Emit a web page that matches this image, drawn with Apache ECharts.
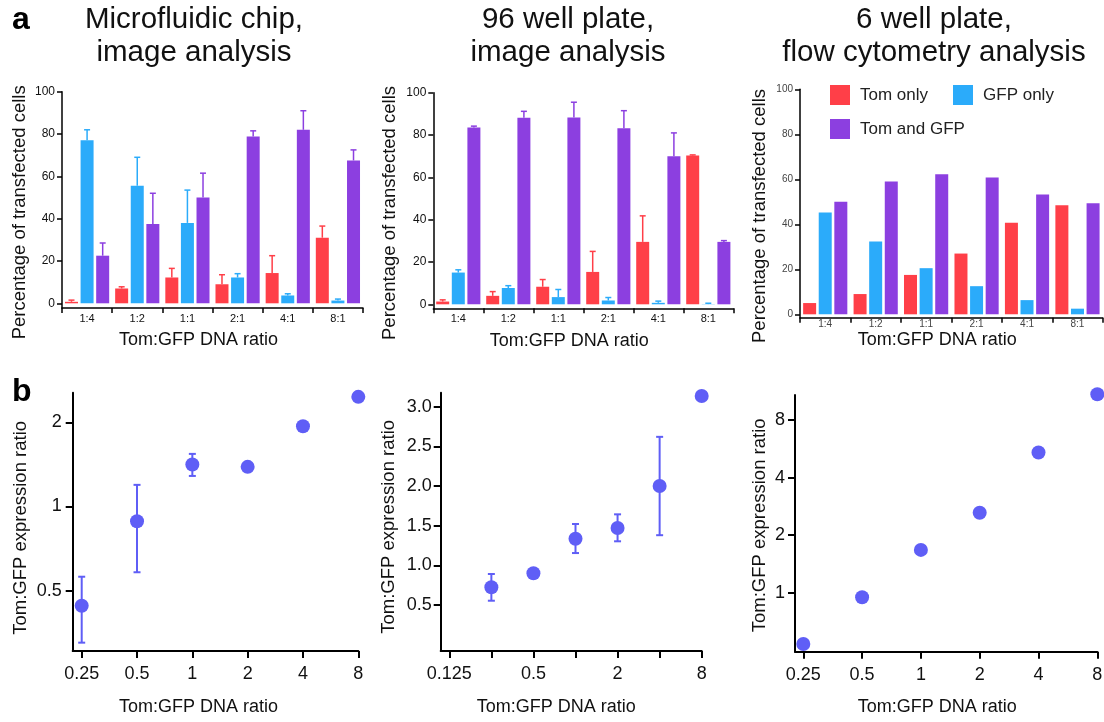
<!DOCTYPE html>
<html><head><meta charset="utf-8">
<script src="https://cdn.jsdelivr.net/npm/echarts@6/dist/echarts.min.js"></script>
<style>html,body{margin:0;padding:0;background:#fff}#c{width:1104px;height:722px}</style>
</head><body><div id="c"></div>
<script>
// ---------------- data ----------------
const categories = ['1:4', '1:2', '1:1', '2:1', '4:1', '8:1'];
const seriesNames = ['Tom only', 'GFP only', 'Tom and GFP'];

// a, microfluidic chip (mean and top of error bar)
const chipTom = [0.7, 7.0, 12.2, 9.0, 14.3, 31.0];
const chipTomErr = [1.5, 7.8, 16.5, 13.5, 22.5, 36.5];
const chipGfp = [77.0, 55.5, 38.0, 12.2, 3.7, 1.3];
const chipGfpErr = [82.0, 69.0, 53.5, 14.0, 4.5, 2.0];
const chipBoth = [22.5, 37.5, 50.0, 78.8, 82.0, 67.5];
const chipBothErr = [28.5, 52.0, 61.5, 81.5, 91.0, 72.5];

// a, 96 well plate
const wellTom = [1.3, 4.0, 8.3, 15.3, 29.5, 70.3];
const wellTomErr = [2.1, 6.0, 11.7, 25.0, 41.8, 70.6];
const wellGfp = [15.0, 7.7, 3.4, 1.8, 0.7, 0.1];
const wellGfpErr = [16.3, 8.8, 7.0, 3.2, 1.5, 0.5];
const wellBoth = [83.5, 88.2, 88.3, 83.2, 70.0, 29.5];
const wellBothErr = [84.2, 91.2, 95.5, 91.5, 81.0, 30.1];

// a, 6 well plate (flow cytometry)
const flowTom = [5.0, 9.0, 17.5, 27.0, 40.7, 48.5];
const flowGfp = [45.2, 32.3, 20.5, 12.5, 6.3, 2.5];
const flowBoth = [50.0, 59.0, 62.2, 60.8, 53.2, 49.3];

// b, expression ratio vs DNA ratio
const dnaRatio = [0.25, 0.5, 1, 2, 4, 8];
const chipExpr = [0.442, 0.886, 1.413, 1.386, 1.937, 2.466];
const chipExprLo = [0.326, 0.582, 1.286, null, null, null];
const chipExprHi = [0.561, 1.195, 1.542, null, null, null];
const wellExpr = [0.723, 0.900, 1.336, 1.471, 2.000, 3.135];
const wellExprLo = [0.554, null, 1.155, 1.303, 1.380, null];
const wellExprHi = [0.891, null, 1.521, 1.643, 2.620, null];
const flowExpr = [0.539, 0.946, 1.674, 2.620, 5.410, 10.900];

// tick labels
const b1XTicks = [0.25, 0.5, 1, 2, 4, 8];
const b1XLabels = ['0.25', '0.5', '1', '2', '4', '8'];
const b1YTicks = [0.5, 1, 2];
const b1YLabels = ['0.5', '1', '2'];
const b2XTicks = [0.125, 0.25, 0.5, 1, 2, 4, 8];
const b2XLabels = ['0.125', '', '0.5', '', '2', '', '8'];
const b2YTicks = [0.5, 1, 1.5, 2, 2.5, 3];
const b2YLabels = ['0.5', '1.0', '1.5', '2.0', '2.5', '3.0'];
const b3XTicks = [0.25, 0.5, 1, 2, 4, 8];
const b3XLabels = ['0.25', '0.5', '1', '2', '4', '8'];
const b3YTicks = [1, 2, 4, 8];
const b3YLabels = ['1', '2', '4', '8'];

const titles = ['Microfluidic chip,\nimage analysis', '96 well plate,\nimage analysis', '6 well plate,\nflow cytometry analysis'];
const xName = 'Tom:GFP DNA ratio';
const yNameA = 'Percentage of transfected cells';
const yNameB = 'Tom:GFP expression ratio';

// ---------------- style ----------------
const FONT = '"Liberation Sans", Arial, Helvetica, sans-serif';
const COL = ['#FF3F48', '#2BABFA', '#8C3FE0'];
const PT = '#5F5EF6';
const BW = 13, GAP = 0.2;
const XNAME_SIZE = 18, YNAME_SIZE = 18.5;

const grids = [], xAxes = [], yAxes = [], series = [];
function addGrid(left, top, width, height) {
  grids.push({left, top, width, height, containLabel: false, outerBoundsMode: 'none'});
  return grids.length - 1;
}
function lookup(ticks, labels) {
  return function (v) {
    for (let i = 0; i < ticks.length; i++) if (Math.abs(ticks[i] - v) < 1e-6 * Math.max(1, ticks[i])) return labels[i];
    return '';
  };
}

function barErrRender(offset) {
  return function (params, api) {
    const base = api.coord([api.value(0), api.value(1)]);
    const top = api.coord([api.value(0), api.value(2)]);
    const x = base[0] + offset, c = 3;
    const st = {stroke: api.visual('color'), lineWidth: 1.5};
    return {type: 'group', children: [
      {type: 'line', shape: {x1: x, y1: base[1], x2: x, y2: top[1]}, style: st},
      {type: 'line', shape: {x1: x - c, y1: top[1], x2: x + c, y2: top[1]}, style: st}
    ]};
  };
}
function ptErrRender(params, api) {
  const lo = api.coord([api.value(0), api.value(1)]);
  const hi = api.coord([api.value(0), api.value(2)]);
  const x = lo[0], c = 3.5;
  const st = {stroke: PT, lineWidth: 2};
  return {type: 'group', children: [
    {type: 'line', shape: {x1: x, y1: lo[1], x2: x, y2: hi[1]}, style: st},
    {type: 'line', shape: {x1: x - c, y1: lo[1], x2: x + c, y2: lo[1]}, style: st},
    {type: 'line', shape: {x1: x - c, y1: hi[1], x2: x + c, y2: hi[1]}, style: st}
  ]};
}

function barPanel(p, vals, errs) {
  const g = addGrid(p.left, p.top, p.width, p.axisY - p.top);
  const t = addGrid(p.left, p.top, p.width, p.zeroY - p.top);
  const gMin = -(p.axisY - p.zeroY) / (p.zeroY - p.top) * 100;
  xAxes.push({gridIndex: g, type: 'category', data: categories,
    axisLine: {show: true, onZero: false, lineStyle: {color: '#000', width: 1.5}},
    axisTick: {show: true, length: 5, lineStyle: {color: '#000', width: 1.5}},
    axisLabel: {margin: p.xMargin, fontSize: p.xFont, color: p.labelColor, fontFamily: FONT},
    splitLine: {show: false},
    name: xName, nameLocation: 'middle', nameGap: p.xNameGap,
    nameTextStyle: {fontSize: XNAME_SIZE, color: '#111', fontFamily: FONT, padding: [0, 28, 0, 0]}});
  const gx = xAxes.length - 1;
  yAxes.push({gridIndex: g, type: 'value', min: gMin, max: 100,
    axisLine: {show: true, onZero: false, lineStyle: {color: '#000', width: 1.5}},
    axisTick: {show: false}, axisLabel: {show: false}, splitLine: {show: false},
    name: yNameA, nameLocation: 'middle', nameGap: p.yNameGap,
    nameTextStyle: {fontSize: YNAME_SIZE, color: '#111', fontFamily: FONT, padding: [0, 25, 0, 0]}});
  const gy = yAxes.length - 1;
  xAxes.push({gridIndex: t, type: 'value', show: false});
  yAxes.push({gridIndex: t, type: 'value', min: 0, max: 100, interval: 20,
    axisLine: {show: false},
    axisTick: {show: true, length: 5, lineStyle: {color: '#000', width: 1.5}},
    axisLabel: {margin: p.yMargin, fontSize: p.yFont, color: p.labelColor, fontFamily: FONT},
    splitLine: {show: false}});
  const offs = [-(BW + BW * GAP), 0, BW + BW * GAP];
  vals.forEach(function (v, k) {
    series.push({type: 'bar', name: seriesNames[k], xAxisIndex: gx, yAxisIndex: gy,
      data: v, barWidth: BW, barGap: (GAP * 100) + '%', itemStyle: {color: COL[k]}, silent: true});
  });
  if (errs) errs.forEach(function (e, k) {
    series.push({type: 'custom', xAxisIndex: gx, yAxisIndex: gy, itemStyle: {color: COL[k]},
      renderItem: barErrRender(offs[k]), encode: {x: 0, y: [1, 2]}, silent: true, z: 3,
      data: e.map(function (top, i) { return [i, vals[k][i], top]; })});
  });
}

function scatterPanel(p) {
  const tr = (v, log) => log ? Math.log2(v) : v;
  const inv = (v, log) => log ? Math.pow(2, v) : v;
  function ext(tmin, tmax, pA, pB, gA, gB, log) {
    const a = tr(tmin, log), b = tr(tmax, log);
    const k = (b - a) / (pB - pA);
    return [inv(a + (gA - pA) * k, log), inv(a + (gB - pA) * k, log)];
  }
  const G = p.G, T = p.T;
  const xe = ext(p.xT[0], p.xT[1], T.left, T.right, G.left, G.right, true);
  const ye = ext(p.yT[0], p.yT[1], T.bottom, T.top, G.bottom, G.top, p.yLog);
  const g = addGrid(G.left, G.top, G.right - G.left, G.bottom - G.top);
  const t = addGrid(T.left, T.top, T.right - T.left, T.bottom - T.top);
  const line = {show: true, onZero: false, lineStyle: {color: '#000', width: 2}};
  xAxes.push({gridIndex: g, type: 'log', logBase: 2, min: xe[0], max: xe[1], axisLine: line,
    axisTick: {show: false}, axisLabel: {show: false}, splitLine: {show: false},
    name: xName, nameLocation: 'middle', nameGap: p.xNameGap,
    nameTextStyle: {fontSize: XNAME_SIZE, color: '#111', fontFamily: FONT, padding: [0, p.xNameShift, 0, 0]}});
  const gx = xAxes.length - 1;
  yAxes.push(Object.assign({gridIndex: g, min: ye[0], max: ye[1], axisLine: line,
    axisTick: {show: false}, axisLabel: {show: false}, splitLine: {show: false},
    name: yNameB, nameLocation: 'middle', nameGap: p.yNameGap,
    nameTextStyle: {fontSize: YNAME_SIZE, color: '#111', fontFamily: FONT, padding: [0, p.yNameShift, 0, 0]}},
    p.yLog ? {type: 'log', logBase: 2} : {type: 'value'}));
  const gy = yAxes.length - 1;
  xAxes.push({gridIndex: t, type: 'log', logBase: 2, min: p.xT[0], max: p.xT[1],
    offset: G.bottom - T.bottom, axisLine: {show: false},
    axisTick: {show: true, length: 7, lineStyle: {color: '#000', width: 2}},
    axisLabel: {margin: p.xMargin, fontSize: 18, color: '#111', fontFamily: FONT,
      showMinLabel: true, showMaxLabel: true, formatter: lookup(p.xTicks, p.xLabels)},
    splitLine: {show: false}});
  yAxes.push(Object.assign({gridIndex: t, min: p.yT[0], max: p.yT[1],
    offset: T.left - G.left, axisLine: {show: false},
    axisTick: {show: true, length: 7, lineStyle: {color: '#000', width: 2}},
    axisLabel: {margin: p.yMargin, fontSize: 18, color: '#111', fontFamily: FONT,
      showMinLabel: true, showMaxLabel: true, formatter: lookup(p.yTicks, p.yLabels)},
    splitLine: {show: false}},
    p.yLog ? {type: 'log', logBase: 2} : {type: 'value', interval: p.yInterval}));
  series.push({type: 'scatter', xAxisIndex: gx, yAxisIndex: gy, symbol: 'circle', symbolSize: 14,
    clip: false, itemStyle: {color: PT, opacity: 1}, silent: true, z: 4,
    data: dnaRatio.map((x, i) => [x, p.expr[i]])});
  if (p.lo) {
    const rows = [];
    dnaRatio.forEach((x, i) => { if (p.lo[i] != null) rows.push([x, p.lo[i], p.hi[i]]); });
    series.push({type: 'custom', xAxisIndex: gx, yAxisIndex: gy, renderItem: ptErrRender,
      encode: {x: 0, y: [1, 2]}, silent: true, z: 3, data: rows});
  }
}

barPanel({left: 62, width: 301, top: 91.7, zeroY: 303.3, axisY: 308, xMargin: 5, yMargin: 7,
  xFont: 11, yFont: 12, labelColor: '#111', xNameGap: 23, yNameGap: 33},
  [chipTom, chipGfp, chipBoth], [chipTomErr, chipGfpErr, chipBothErr]);
barPanel({left: 433.3, width: 300, top: 92.7, zeroY: 304.3, axisY: 308.3, xMargin: 5, yMargin: 7,
  xFont: 11, yFont: 12, labelColor: '#111', xNameGap: 24, yNameGap: 34},
  [wellTom, wellGfp, wellBoth], [wellTomErr, wellGfpErr, wellBothErr]);
barPanel({left: 800, width: 302.7, top: 89.3, zeroY: 314.3, axisY: 317.7, xMargin: 2, yMargin: 7,
  xFont: 10, yFont: 10, labelColor: '#444', xNameGap: 13, yNameGap: 31},
  [flowTom, flowGfp, flowBoth], null);

scatterPanel({G: {left: 72.7, right: 358.3, top: 392.7, bottom: 651}, T: {left: 81.7, right: 358.3, top: 422.3, bottom: 590.7},
  xT: [0.25, 8], yT: [0.5, 2], yLog: true, xTicks: b1XTicks, xLabels: b1XLabels, yTicks: b1YTicks, yLabels: b1YLabels,
  xMargin: 14, yMargin: 11, xNameGap: 47, yNameGap: 42, xNameShift: 34, yNameShift: 12,
  expr: chipExpr, lo: chipExprLo, hi: chipExprHi});
scatterPanel({G: {left: 440.7, right: 701.7, top: 392.7, bottom: 651}, T: {left: 449.3, right: 701.7, top: 406.7, bottom: 605},
  xT: [0.125, 8], yT: [0.5, 3], yLog: false, yInterval: 0.5, xTicks: b2XTicks, xLabels: b2XLabels, yTicks: b2YTicks, yLabels: b2YLabels,
  xMargin: 14, yMargin: 9, xNameGap: 47, yNameGap: 42, xNameShift: 30, yNameShift: 10,
  expr: wellExpr, lo: wellExprLo, hi: wellExprHi});
scatterPanel({G: {left: 795, right: 1097.3, top: 395, bottom: 651.7}, T: {left: 803.3, right: 1097.3, top: 420, bottom: 592.7},
  xT: [0.25, 8], yT: [1, 8], yLog: true, xTicks: b3XTicks, xLabels: b3XLabels, yTicks: b3YTicks, yLabels: b3YLabels,
  xMargin: 14, yMargin: 10, xNameGap: 46, yNameGap: 26, xNameShift: 18, yNameShift: 4,
  expr: flowExpr, lo: null, hi: null});

const titleCenters = [194, 568, 934];
const graphics = titles.map((txt, i) => ({type: 'text', x: titleCenters[i], y: 3, silent: true,
  style: {text: txt, align: 'center', verticalAlign: 'top', fontSize: 29.5, lineHeight: 33, fontFamily: FONT, fill: '#111'}}));
graphics.push({type: 'text', x: 12, y: 20.5, silent: true, style: {text: 'a', verticalAlign: 'middle', fontSize: 32, fontWeight: 'bold', fontFamily: FONT, fill: '#000'}});
graphics.push({type: 'text', x: 12, y: 392, silent: true, style: {text: 'b', verticalAlign: 'middle', fontSize: 32, fontWeight: 'bold', fontFamily: FONT, fill: '#000'}});

const legendCommon = {orient: 'horizontal', itemWidth: 20, itemHeight: 20, itemGap: 25, padding: 0, icon: 'rect',
  selectedMode: false, textStyle: {fontSize: 17, color: '#222', fontFamily: FONT, padding: [0, 0, 0, 5]}};
const option = {
  backgroundColor: '#fff',
  animation: false,
  textStyle: {fontFamily: FONT},
  grid: grids, xAxis: xAxes, yAxis: yAxes, series: series,
  legend: [
    Object.assign({left: 830, top: 85, data: [seriesNames[0], seriesNames[1]]}, legendCommon),
    Object.assign({left: 830, top: 119, data: [seriesNames[2]]}, legendCommon)
  ],
  graphic: graphics
};
const chart = echarts.init(document.getElementById('c'), null, {renderer: 'canvas'});
chart.setOption(option);
</script></body></html>
